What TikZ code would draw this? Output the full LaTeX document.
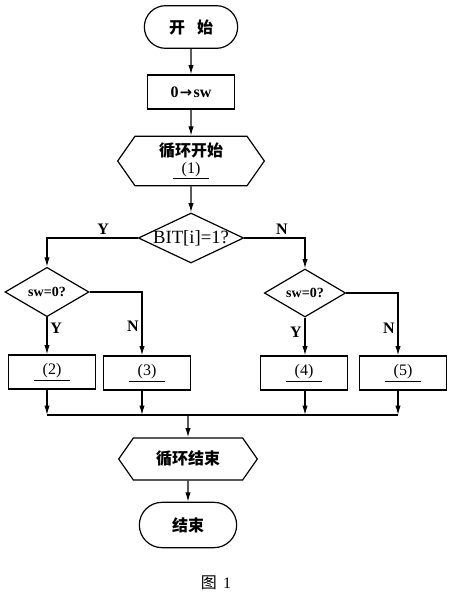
\documentclass[tikz,border=0pt]{standalone}
\usepackage{fontspec}
\setmainfont{Liberation Serif}
\newfontfamily\cjk{Noto Sans CJK SC}
\newfontfamily\symfont{DejaVu Sans}
\usetikzlibrary{positioning,arrows.meta,shapes.geometric,shapes.misc,shapes.symbols}
\newcommand{\fillin}[1]{\underline{\makebox[27pt]{#1}}}

\begin{document}
\begin{tikzpicture}[
  x=0.75pt, y=-0.75pt,
  every node/.style={font=\fontsize{12}{14}\selectfont},
  terminal/.style={
    rounded rectangle, draw, line width=0.9pt,
    minimum width=70pt, minimum height=32pt, inner sep=0pt,
    font=\fontsize{12}{14}\selectfont\cjk\bfseries,
  },
  procbox/.style={
    rectangle, draw, line width=0.9pt,
    minimum width=65pt, minimum height=25.5pt, inner sep=1pt,
  },
  loopbox/.style={
    signal, signal to=west and east, signal pointer angle=110,
    draw, line width=0.9pt, inner sep=1pt, align=center,
    font=\fontsize{12}{14}\selectfont\cjk\bfseries,
  },
  decide/.style={
    diamond, draw, line width=0.9pt, inner sep=0pt,
    font=\fontsize{10.5}{12}\selectfont\bfseries,
  },
  lab/.style={font=\fontsize{12}{14}\selectfont\bfseries, inner sep=2pt},
  arr/.style={-{Latex[length=7pt,width=4pt]}, line width=0.9pt},
]
\useasboundingbox (0,0) rectangle (451,596);

% === main column ===
\node[terminal] (start) at (191, 27) {开\hspace{0.75em}始};
\node[procbox, font=\fontsize{12}{14}\selectfont\bfseries] (init) at (191, 92)
  {0\hspace{1pt}{\symfont\fontsize{11}{12}\selectfont →}\hspace{1pt}sw};
\node[loopbox, minimum width=110pt, minimum height=37pt] (loopbeg) at (191, 161)
  {循环开始\\[-1pt]{\rmfamily\mdseries\fillin{(1)}}};
\node[decide, minimum width=79pt, minimum height=37.5pt, inner sep=-4pt,
  shape aspect=2.1, font=\fontsize{14}{16}\selectfont] (bit) at (191, 238) {BIT[i]=1?};

% === inner tests ===
\node[decide, minimum width=63pt, minimum height=37pt] (swl) at (47, 292) {sw=0?};
\node[decide, minimum width=61pt, minimum height=36pt] (swr) at (305, 293) {sw=0?};

% === blanks ===
\node[procbox] (b2) at (52, 372) {\fillin{(2)}};
\node[procbox] (b3) at (147, 373) {\fillin{(3)}};
\node[procbox] (b4) at (304, 373) {\fillin{(4)}};
\node[procbox] (b5) at (403, 373) {\fillin{(5)}};

% === end part ===
\node[loopbox, minimum width=104pt, minimum height=31.5pt] (loopend) at (188, 459) {循环结束};
\node[terminal, minimum width=73pt, minimum height=34pt] (stop) at (188, 525) {结束};

\coordinate (lN) at (142, 415);
\coordinate (rN) at (398, 415);

% === connectors ===
\draw[arr] (start) -- (init);
\draw[arr] (init) -- (loopbeg);
\draw[arr] (loopbeg) -- (bit);
\draw[arr] (bit.west) -| node[lab, pos=0.19, above] {Y} (swl.north);
\draw[arr] (bit.east) -| node[lab, pos=0.31, above] {N} (swr.north);
\draw[arr] (swl.south) -- node[lab, pos=0.3, right] {Y} (swl.south |- b2.north);
\draw[arr] (swl.east) -| node[lab, pos=0.77, left] {N} (b3.north -| lN);
\draw[arr] (swr.south) -- node[lab, pos=0.4, left] {Y} (swr.south |- b4.north);
\draw[arr] (swr.east) -| node[lab, pos=0.78, left] {N} (b5.north -| rN);

\draw[arr] (b2.south -| swl.south) -- (swl.south |- lN);
\draw[arr] (b3.south -| lN) -- (lN);
\draw[arr] (b4.south -| swr.south) -- (swr.south |- lN);
\draw[arr] (b5.south -| rN) -- (rN);
\draw[line width=0.9pt] (swl.south |- lN) -- (rN);
\draw[arr] (loopend.north |- lN) -- (loopend);
\draw[arr] (loopend) -- (stop);

% === caption ===
\node (cap) at (216, 583) {{\cjk 图}\hspace{0.4em}1};

\end{tikzpicture}
\end{document}
